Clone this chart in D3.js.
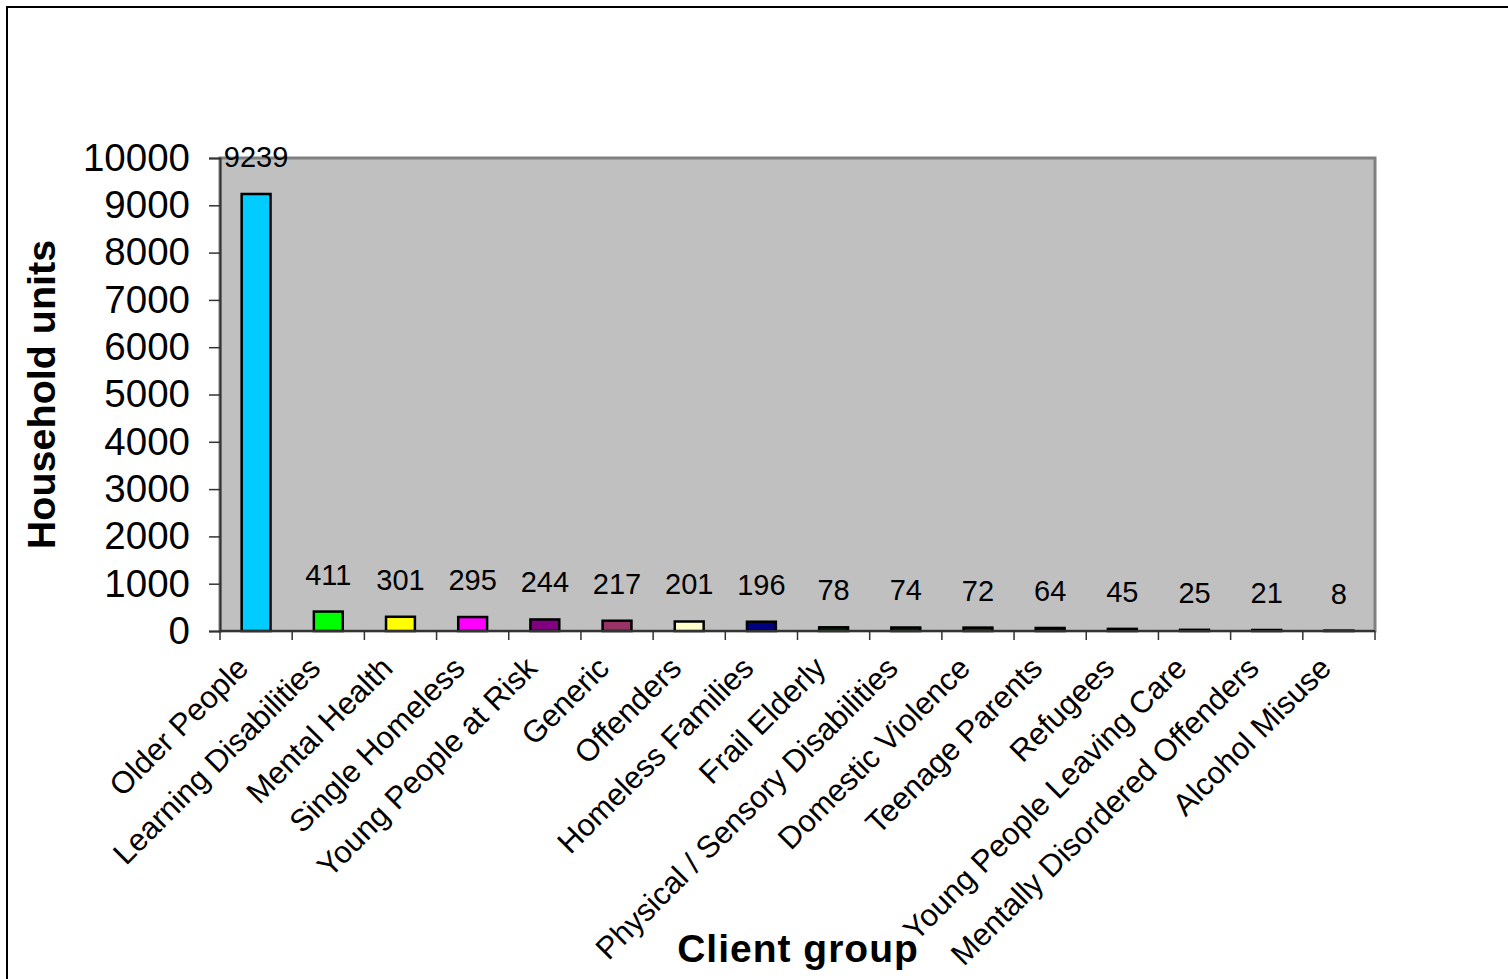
<!DOCTYPE html>
<html>
<head>
<meta charset="utf-8">
<script src="https://cdn.jsdelivr.net/npm/d3@7"></script>
<style>
	body { margin: 0; background: #fff; }
	svg { display: block; font-family: Arial, "Liberation Sans", sans-serif; }
</style>
</head>
<body>
<div id="chart"></div>
<script>
//Chart data
var categories = ["Older People", "Learning Disabilities", "Mental Health", "Single Homeless",
	"Young People at Risk", "Generic", "Offenders", "Homeless Families", "Frail Elderly",
	"Physical / Sensory Disabilities", "Domestic Violence", "Teenage Parents", "Refugees",
	"Young People Leaving Care", "Mentally Disordered Offenders", "Alcohol Misuse"];
var units = [9239, 411, 301, 295, 244, 217, 201, 196, 78, 74, 72, 64, 45, 25, 21, 8];
var barColors = ["#00ccff", "#00ff00", "#ffff00", "#ff00ff", "#800080", "#993366", "#ffffcc", "#000080",
	"#003300", "#003300", "#333300", "#1a1a1a", "#330000", "#000000", "#000000", "#000000"];
var yTicks = [0, 1000, 2000, 3000, 4000, 5000, 6000, 7000, 8000, 9000, 10000];

var width = 1508, height = 979;
var plot = {left: 220, right: 1375, top: 158, bottom: 631};

var svg = d3.select("#chart").append("svg")
	.attr("width", width)
	.attr("height", height);

//outer chart frame (runs off the right and bottom edges)
svg.append("rect")
	.attr("x", 7).attr("y", 7)
	.attr("width", 1530).attr("height", 1000)
	.attr("fill", "#fff")
	.attr("stroke", "#000")
	.attr("stroke-width", 2);

var x = d3.scaleBand()
	.domain(categories)
	.range([plot.left, plot.right])
	.paddingInner(0.6)
	.paddingOuter(0.3);

var y = d3.scaleLinear()
	.domain([0, 10000])
	.range([plot.bottom, plot.top]);

//grey plot area
svg.append("rect")
	.attr("x", plot.left).attr("y", plot.top)
	.attr("width", plot.right - plot.left)
	.attr("height", plot.bottom - plot.top)
	.attr("fill", "#c0c0c0")
	.attr("stroke", "#808080")
	.attr("stroke-width", 3);

//bars
svg.append("g").selectAll("rect")
	.data(units)
	.enter().append("rect")
	.attr("x", function(d, i) { return x(categories[i]); })
	.attr("y", function(d) { return y(d); })
	.attr("width", x.bandwidth())
	.attr("height", function(d) { return y(0) - y(d); })
	.attr("fill", function(d, i) { return barColors[i]; })
	.attr("stroke", "#000")
	.attr("stroke-width", 2.5);

//value labels
svg.append("g").selectAll("text")
	.data(units)
	.enter().append("text")
	.attr("x", function(d, i) { return x(categories[i]) + x.bandwidth() / 2; })
	.attr("y", function(d) { return y(d) - 27; })
	.attr("text-anchor", "middle")
	.attr("font-size", 29)
	.attr("fill", "#000")
	.text(function(d) { return d; });

//y axis
var yAxis = svg.append("g")
	.attr("transform", "translate(" + plot.left + ",0)")
	.call(d3.axisLeft(y).tickValues(yTicks).tickSize(11).tickPadding(19).tickFormat(d3.format("d")));
yAxis.select(".domain").attr("stroke", "#333").attr("stroke-width", 2);
yAxis.selectAll(".tick line").attr("stroke", "#333").attr("stroke-width", 1.5);
yAxis.selectAll(".tick text")
	.attr("font-size", 38.5)
	.attr("font-family", "Arial, 'Liberation Sans', sans-serif")
	.attr("fill", "#000");

//x axis: ticks sit on category boundaries
var bounds = d3.range(categories.length + 1).map(function(i) {
	return plot.left + i * x.step();
});
svg.append("line")
	.attr("x1", plot.left).attr("x2", plot.right)
	.attr("y1", plot.bottom).attr("y2", plot.bottom)
	.attr("stroke", "#333").attr("stroke-width", 2);
svg.append("g").selectAll("line")
	.data(bounds)
	.enter().append("line")
	.attr("x1", function(d) { return d; }).attr("x2", function(d) { return d; })
	.attr("y1", plot.bottom).attr("y2", plot.bottom + 9)
	.attr("stroke", "#333").attr("stroke-width", 1.5);

//rotated category labels
svg.append("g").selectAll("text")
	.data(categories)
	.enter().append("text")
	.attr("transform", function(d) {
		return "translate(" + (x(d) + x.bandwidth() / 2 - 6) + "," + 670 + ") rotate(-45)";
	})
	.attr("text-anchor", "end")
	.attr("font-size", 31)
	.attr("fill", "#000")
	.text(function(d) { return d; });

//axis titles
svg.append("text")
	.attr("transform", "translate(55," + ((plot.top + plot.bottom) / 2) + ") rotate(-90)")
	.attr("text-anchor", "middle")
	.attr("font-size", 39.5)
	.attr("font-weight", "bold")
	.text("Household units");

svg.append("text")
	.attr("x", 798).attr("y", 962)
	.attr("text-anchor", "middle")
	.attr("font-size", 39)
	.attr("font-weight", "bold")
	.attr("letter-spacing", 1)
	.text("Client group");
</script>
</body>
</html>
